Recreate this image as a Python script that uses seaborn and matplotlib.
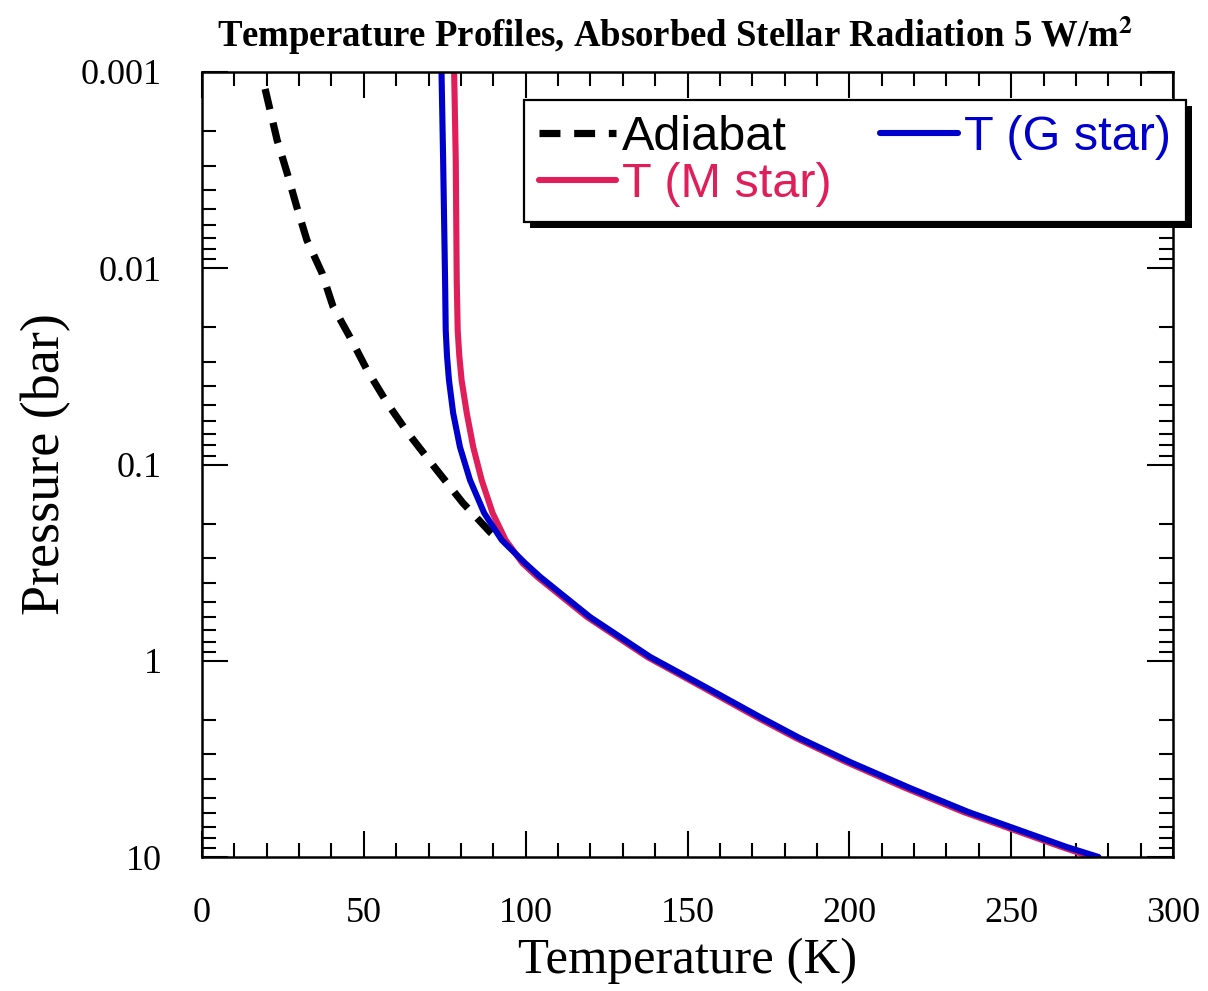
import matplotlib
matplotlib.use("Agg")
import matplotlib.pyplot as plt
from matplotlib.patches import Rectangle
from matplotlib.ticker import LogLocator, MultipleLocator, FixedLocator, FixedFormatter
import numpy as np
import pandas as pd
import seaborn as sns

# Dry adiabat (pressure in bar, temperature in K)
adiabat_p = [0.00122, 0.00222, 0.00327, 0.00488, 0.00718, 0.0106, 0.0157, 0.0224,
             0.033, 0.0486, 0.069, 0.104, 0.157, 0.221, 0.245]
adiabat_t = [19.5, 23.2, 26.3, 29.3, 32.4, 37.1, 40.5, 45.7,
             51.0, 57.2, 63.6, 72.0, 80.6, 89.0, 92.0]

# Radiative-convective profiles
profile_p = [0.001, 0.0028, 0.0115, 0.0207, 0.028, 0.0371, 0.0547, 0.0815, 0.120, 0.177,
             0.2425, 0.318, 0.374, 0.599, 0.957, 1.36, 1.94, 2.48, 3.28, 4.45,
             5.9, 7.1, 8.9, 10.0]
g_star_t = [74.0, 74.5, 75.1, 75.3, 75.7, 76.3, 77.6, 79.7, 82.8, 87.2,
            92.6, 99.8, 104.5, 119.9, 138.5, 155.5, 172.5, 184.7, 200.2, 218.7,
            236.8, 250.5, 267.2, 277.0]
m_star_t = [77.9, 78.4, 78.7, 79.0, 79.5, 80.2, 81.8, 83.8, 86.4, 89.8,
            93.8, 99.0, 103.6, 119.0, 137.6, 154.5, 171.4, 183.6, 199.0, 217.3,
            235.3, 249.0, 265.7, 274.8]

x_ticks = [0, 50, 100, 150, 200, 250, 300]
y_ticks = [0.001, 0.01, 0.1, 1, 10]
y_tick_labels = ["0.001", "0.01", "0.1", "1", "10"]

sns.set_theme(style="ticks")
plt.rcParams["font.family"] = ["Liberation Serif", "DejaVu Serif"]
plt.rcParams["mathtext.fontset"] = "stix"

W, H = 1208, 991
fig = plt.figure(figsize=(W / 100, H / 100), dpi=100)
ax = fig.add_axes([202 / W, 1 - 857 / H, (1173 - 202) / W, (857 - 72) / H])

df_ad = pd.DataFrame({"T": adiabat_t, "P": adiabat_p})
df_g = pd.DataFrame({"T": g_star_t, "P": profile_p})
df_m = pd.DataFrame({"T": m_star_t, "P": profile_p})

sns.lineplot(data=df_ad, x="T", y="P", sort=False, estimator=None, ax=ax,
             color="black", lw=5.2, label="Adiabat")
ax.lines[-1].set_dashes([2.9, 1.9])
ax.lines[-1].set_dash_capstyle("butt")
sns.lineplot(data=df_m, x="T", y="P", sort=False, estimator=None, ax=ax,
             color="#E01E5A", lw=4.4, label="T (M star)")
sns.lineplot(data=df_g, x="T", y="P", sort=False, estimator=None, ax=ax,
             color="#0000CC", lw=4.4, label="T (G star)")
for ln in ax.lines:
    ln.set_solid_joinstyle("round")

ax.set_yscale("log")
ax.set_xlim(0, 300)
ax.set_ylim(10, 0.001)

ax.xaxis.set_major_locator(FixedLocator(x_ticks))
ax.xaxis.set_minor_locator(MultipleLocator(10))
ax.yaxis.set_major_locator(FixedLocator(y_ticks))
ax.yaxis.set_major_formatter(FixedFormatter(y_tick_labels))
ax.yaxis.set_minor_locator(LogLocator(base=10, subs=np.arange(2, 10), numticks=20))
ax.yaxis.set_minor_formatter(plt.NullFormatter())

ax.tick_params(which="both", direction="in", top=True, right=True, color="black", width=1.5)
ax.tick_params(which="major", length=18.5, labelsize=26, pad=29, labelcolor="black")
ax.tick_params(which="minor", length=10)
for s in ax.spines.values():
    s.set_linewidth(1.8)
    s.set_color("black")
    s.set_visible(True)

ax.set_xlabel("Temperature (K)", fontsize=36.5, labelpad=5, color="black")
ax.set_ylabel("Pressure (bar)", fontsize=39, labelpad=7, color="black")

fig.text(675 / W, 1 - 47 / H, r"Temperature Profiles, Absorbed Stellar Radiation 5 W/m$^\mathbf{2}$",
         ha="center", va="baseline", fontsize=26.5, fontweight="bold", color="black")

handles, labels = ax.get_legend_handles_labels()
ax.get_legend().remove()
leg = fig.legend(handles, labels, ncol=2, loc="upper left",
                 bbox_to_anchor=(524 / W, 1 - 100 / H), bbox_transform=fig.transFigure,
                 borderaxespad=0, fancybox=False, framealpha=1, edgecolor="black",
                 prop={"family": "Liberation Sans", "size": 35}, handlelength=1.6,
                 handletextpad=0.12, columnspacing=1.0, labelspacing=0.05, borderpad=0.3)
leg.get_frame().set_linewidth(1.6)
for txt, col in zip(leg.get_texts(), ["black", "#E01E5A", "#0000CC"]):
    txt.set_color(col)
leg.set_zorder(5)

# Drop shadow behind the legend box
fig.canvas.draw()
bb = leg.get_frame().get_window_extent()
fig.patches.append(Rectangle((bb.x0 + 6, bb.y0 - 6), bb.width, bb.height,
                             transform=None, facecolor="black", edgecolor="none",
                             zorder=4, figure=fig))

fig.savefig("out.png", dpi=100)
